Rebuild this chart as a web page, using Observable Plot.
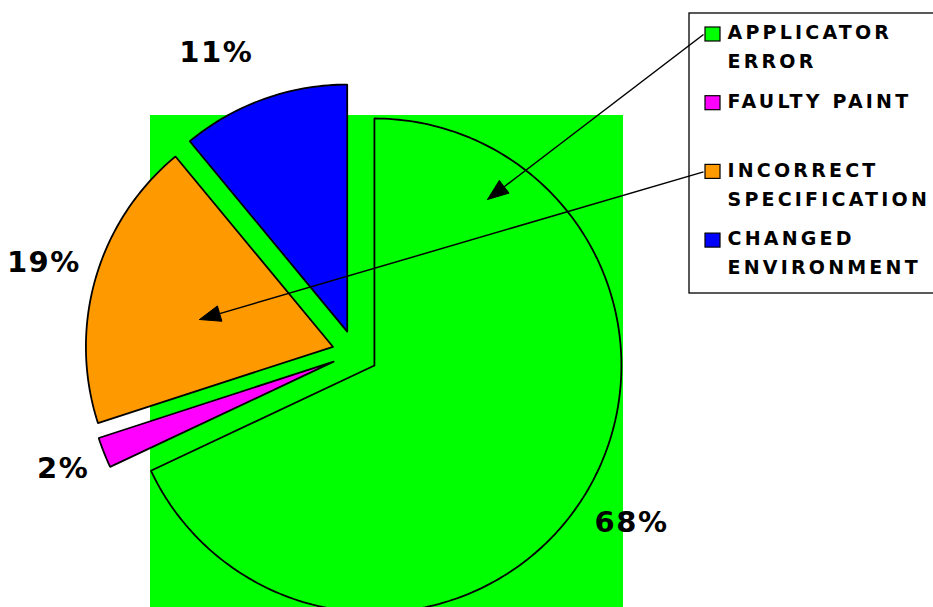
<!DOCTYPE html>
<html><head><meta charset="utf-8">
<script src="https://cdn.jsdelivr.net/npm/d3@7"></script>
<script src="https://cdn.jsdelivr.net/npm/@observablehq/plot@0.6"></script>
<style>
html,body{margin:0;padding:0;background:#fff;overflow:hidden}
#chart svg{display:block}
g[font-size="19"] text{letter-spacing:3.2px}
g[font-size="29"] text{letter-spacing:1.5px}
</style></head><body><div id="chart"></div>
<script>
// ---- data ----
const categories = ["APPLICATOR ERROR", "FAULTY PAINT", "INCORRECT SPECIFICATION", "CHANGED ENVIRONMENT"];
const shares = [68, 2, 19, 11];
const legendLabels = ["APPLICATOR\nERROR", "FAULTY PAINT", "INCORRECT\nSPECIFICATION", "CHANGED\nENVIRONMENT"];
const sliceColors = ["#00ff00", "#ff00ff", "#ff9900", "#0000ff"];
const arrowLinks = [
  {from: "APPLICATOR ERROR", tx: 487, ty: 199},
  {from: "INCORRECT SPECIFICATION", tx: 199, ty: 319}
];

// ---- layout ----
const W = 933, H = 607;
const L = {
  cx: 354.5, cy: 352.7, r: 247, explode: 23, labelGap: 16, fs: 29,
  plotArea: {x1: 150, x2: 623, y1: 115, y2: 612},
  legendBox: {x1: 689, x2: 945, y1: 13, y2: 293},
  legendTop: 26, legendStep: 68.7, keyX1: 705, keyX2: 720, keySize: 14, textX: 727, textShift: -8,
  labelNudge: {"CHANGED ENVIRONMENT": [-34, -10], "APPLICATOR ERROR": [4, -3]},
  arrowLen: 21, arrowHalf: 8
};

const table = categories.map((c, i) => ({cat: c, value: shares[i], pct: shares[i] + "%", legend: legendLabels[i], i}));
const arcs = d3.pie().sort(null).value(d => d.value)(table);

// slice polygons
const slicePts = [];
const labels = [];
arcs.forEach(a => {
  const mid = (a.startAngle + a.endAngle) / 2;
  const ux = Math.sin(mid), uy = -Math.cos(mid);
  const tx = L.cx + L.explode * ux, ty = L.cy + L.explode * uy;
  slicePts.push({cat: a.data.cat, x: tx, y: ty});
  const n = Math.max(4, Math.ceil((a.endAngle - a.startAngle) / 0.02));
  for (let k = 0; k <= n; k++) {
    const t = a.startAngle + (a.endAngle - a.startAngle) * k / n;
    slicePts.push({cat: a.data.cat, x: tx + L.r * Math.sin(t), y: ty - L.r * Math.cos(t)});
  }
  slicePts.push({cat: a.data.cat, x: tx, y: ty});
  // label centre along the mid-angle ray, just outside the slice
  const w = [...a.data.pct].reduce((s, ch) => s + (ch === "%" ? 1.002 : 0.696), 0) * L.fs + 1.5 * (a.data.pct.length - 1);
  const hw = w / 2, hh = 0.4 * L.fs;
  const d = L.r + L.labelGap + hw * Math.abs(ux) + hh * Math.abs(uy);
  const nudge = L.labelNudge[a.data.cat] || [0, 0];
  labels.push({text: a.data.pct, x: tx + d * ux + nudge[0], y: ty + d * uy + nudge[1]});
});

// legend
const legendData = table.map((d, i) => ({...d, top: L.legendTop + L.legendStep * i}));

// arrows
const arrowLines = [], arrowHeads = [];
arrowLinks.forEach((a, j) => {
  const e = legendData.find(d => d.cat === a.from);
  const sx = L.keyX1 - 2, sy = e.top + L.keySize / 2 + 1;
  const dx = a.tx - sx, dy = a.ty - sy, len = Math.hypot(dx, dy);
  const ux = dx / len, uy = dy / len;
  const bx = a.tx - L.arrowLen * ux, by = a.ty - L.arrowLen * uy;
  arrowLines.push({x1: sx, y1: sy, x2: bx, y2: by});
  arrowHeads.push({id: j, x: a.tx, y: a.ty});
  arrowHeads.push({id: j, x: bx - L.arrowHalf * uy, y: by + L.arrowHalf * ux});
  arrowHeads.push({id: j, x: bx + L.arrowHalf * uy, y: by - L.arrowHalf * ux});
  arrowHeads.push({id: j, x: a.tx, y: a.ty});
});

const font = "DejaVu Sans, Verdana, sans-serif";

const chart = Plot.plot({
  width: W, height: H,
  margin: 0,
  style: {overflow: "hidden", background: "white"},
  x: {domain: [0, W], range: [0, W], axis: null},
  y: {domain: [0, H], range: [0, H], axis: null},
  color: {domain: categories, range: sliceColors},
  marks: [
    Plot.rect([L.plotArea], {x1: "x1", x2: "x2", y1: "y1", y2: "y2", fill: "#00ff00"}),
    Plot.line(slicePts, {x: "x", y: "y", z: "cat", fill: "cat", stroke: "black", strokeWidth: 1.8, strokeLinejoin: "miter", curve: "linear"}),
    Plot.rect([L.legendBox], {x1: "x1", x2: "x2", y1: "y1", y2: "y2", fill: "white", stroke: "black", strokeWidth: 1.3}),
    Plot.rect(legendData, {x1: d => L.keyX1, x2: d => L.keyX2, y1: d => d.top + 1, y2: d => d.top + 1 + L.keySize, fill: "cat", stroke: "black", strokeWidth: 1.2}),
    Plot.text(legendData, {x: d => L.textX, y: d => d.top + L.textShift, text: "legend", textAnchor: "start", lineAnchor: "top", lineHeight: 1.53, fontSize: 19, fontWeight: "bold", fontFamily: font, fill: "black"}),
    Plot.link(arrowLines, {x1: "x1", y1: "y1", x2: "x2", y2: "y2", stroke: "black", strokeWidth: 1.5}),
    Plot.line(arrowHeads, {x: "x", y: "y", z: "id", fill: "black", stroke: "black", strokeWidth: 1}),
    Plot.text(labels, {x: "x", y: "y", text: "text", textAnchor: "middle", lineAnchor: "middle", fontSize: L.fs, fontWeight: "bold", fontFamily: font, fill: "black"})
  ]
});
document.getElementById("chart").appendChild(chart);
</script>
</body></html>
